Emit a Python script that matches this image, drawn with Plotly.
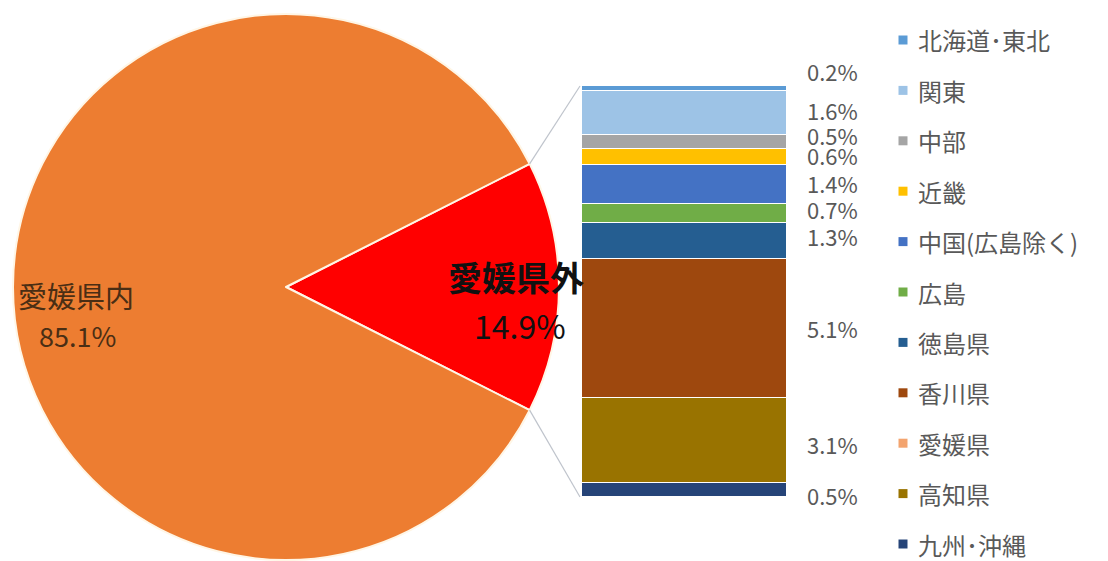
import plotly.graph_objects as go
import math

W, H = 1108, 561

# ---- data ----
pie_labels = ["愛媛県外", "愛媛県内"]
pie_values = [14.9, 85.1]
pie_colors = ["#FF0000", "#ED7D31"]

bar_labels = ["北海道･東北", "関東", "中部", "近畿", "中国(広島除く)", "広島",
              "徳島県", "香川県", "愛媛県", "高知県", "九州･沖縄"]
bar_values = [0.2, 1.6, 0.5, 0.6, 1.4, 0.7, 1.3, 5.1, 0.0, 3.1, 0.5]
bar_colors = ["#5B9BD5", "#9DC3E6", "#A5A5A5", "#FFC000", "#4472C4", "#70AD47",
              "#255E91", "#9E480E", "#F3A46F", "#997300", "#264478"]
# small vertical nudges (px) for bar value labels (as in the reference)
label_shift = [18, 3, 7, 2, 2, 4, 5, 0, 0, -3, -5]

def X(px):
    return px / W

def Y(py):
    return 1 - py / H

FONT = "Noto Sans CJK JP, Noto Sans, sans-serif"

# pie geometry (pixels)
cx, cy, r = 286, 287, 273
bar_left, bar_right, bar_top, bar_bottom = 582, 787, 86, 497
# legend geometry (pixels)
leg_x, leg_top, leg_bottom = 903, 40, 544

fig = go.Figure()

half = pie_values[0] / sum(pie_values) * 180.0
fig.add_trace(go.Pie(
    labels=pie_labels, values=pie_values, sort=False, direction="clockwise",
    rotation=90 - half,
    marker=dict(colors=pie_colors, line=dict(color="#FFF6E6", width=2)),
    textinfo="none", hoverinfo="label+percent", showlegend=False,
    domain=dict(x=[X(cx - r), X(cx + r)], y=[Y(cy + r), Y(cy - r)]),
))

total = sum(bar_values)
for lab, val, col in zip(bar_labels, bar_values, bar_colors):
    fig.add_trace(go.Bar(
        x=[0], y=[val], width=1, name=lab, showlegend=False,
        marker=dict(color=col, line=dict(color="white", width=1.5)),
        xaxis="x", yaxis="y",
    ))

# legend drawn as marks on its own axes
idx = list(range(len(bar_labels)))
fig.add_trace(go.Scatter(
    x=[0] * len(idx), y=idx, mode="markers", showlegend=False, hoverinfo="skip",
    marker=dict(symbol="square", size=9, color=bar_colors),
    cliponaxis=False, xaxis="x2", yaxis="y2",
))

annotations = []
for i, lab in zip(idx, bar_labels):
    annotations.append(dict(
        x=0, xref="x2", y=i, yref="y2", xanchor="left", yanchor="middle",
        xshift=13, text=lab, showarrow=False,
        font=dict(family=FONT, size=24, color="#595959"),
    ))

# value labels beside the bar
cum = 0.0
for lab, val, sh in zip(bar_labels, bar_values, label_shift):
    mid = cum + val / 2
    cum += val
    if val <= 0:
        continue
    annotations.append(dict(
        x=X(805), xref="paper", y=mid, yref="y", xanchor="left", yanchor="middle",
        text=f"{val:.1f}%", showarrow=False, yshift=sh,
        font=dict(family=FONT, size=22, color="#595959"),
    ))

# pie labels
annotations.append(dict(x=X(76), y=Y(295), xref="paper", yref="paper",
                        xanchor="center", yanchor="middle",
                        text=pie_labels[1], showarrow=False,
                        font=dict(family=FONT, size=29, color="#4A2E14")))
annotations.append(dict(x=X(77), y=Y(335), xref="paper", yref="paper",
                        xanchor="center", yanchor="middle",
                        text=f"{pie_values[1]:.1f}%", showarrow=False,
                        font=dict(family=FONT, size=27, color="#4A2E14")))
annotations.append(dict(x=X(516), y=Y(276), xref="paper", yref="paper",
                        xanchor="center", yanchor="middle",
                        text=f"<b>{pie_labels[0]}</b>", showarrow=False,
                        font=dict(family=FONT, size=34, color="#111111")))
annotations.append(dict(x=X(520), y=Y(325), xref="paper", yref="paper",
                        xanchor="center", yanchor="middle",
                        text=f"{pie_values[0]:.1f}%", showarrow=False,
                        font=dict(family=FONT, size=32, color="#111111")))

# connector lines from pie slice edges to bar corners
a = math.radians(half)
ux, uy = cx + r * math.cos(a), cy - r * math.sin(a)
lx, ly = cx + r * math.cos(a), cy + r * math.sin(a)
shapes = [
    dict(type="line", xref="paper", yref="paper", x0=X(ux), y0=Y(uy),
         x1=X(bar_left - 2), y1=Y(bar_top), line=dict(color="#BFC4CC", width=1.2)),
    dict(type="line", xref="paper", yref="paper", x0=X(lx), y0=Y(ly),
         x1=X(bar_left - 2), y1=Y(bar_bottom), line=dict(color="#BFC4CC", width=1.2)),
]

fig.update_layout(
    width=W, height=H, margin=dict(l=0, r=0, t=0, b=0),
    paper_bgcolor="white", plot_bgcolor="rgba(0,0,0,0)",
    barmode="stack", bargap=0, showlegend=False,
    xaxis=dict(domain=[X(bar_left), X(bar_right)], range=[-0.5, 0.5],
               visible=False, fixedrange=True),
    yaxis=dict(domain=[Y(bar_bottom), Y(bar_top)], range=[total, 0],
               visible=False, fixedrange=True),
    xaxis2=dict(domain=[X(leg_x - 5), X(leg_x + 5)], range=[-1, 1],
                visible=False, fixedrange=True, anchor="y2"),
    yaxis2=dict(domain=[Y(leg_bottom), Y(leg_top)], range=[len(idx) - 1, 0],
                visible=False, fixedrange=True, anchor="x2"),
    annotations=annotations, shapes=shapes,
    font=dict(family=FONT),
)

fig.write_html("out.html", config={"displayModeBar": False},
               post_script="document.body.style.margin='0px';")
